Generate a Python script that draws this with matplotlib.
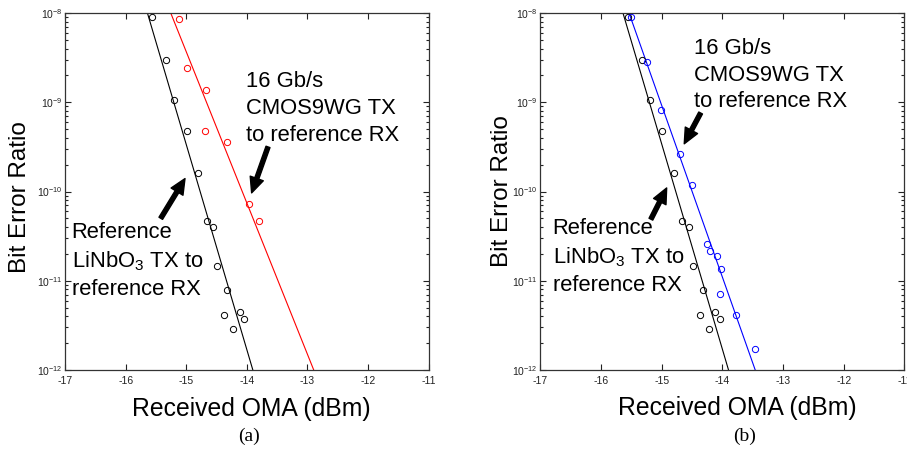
import matplotlib
matplotlib.use('Agg')
import matplotlib.pyplot as plt
from matplotlib.ticker import LogLocator, LogFormatterSciNotation, NullFormatter

plt.rcParams['font.family'] = ['Liberation Sans', 'DejaVu Sans']
plt.rcParams['mathtext.fontset'] = 'custom'
plt.rcParams['mathtext.rm'] = 'Liberation Sans'
plt.rcParams['mathtext.it'] = 'Liberation Sans:italic'

# reference LiNbO3 TX measurements (same in both panels)
ref_oma = [-15.56, -15.33, -15.20, -14.99, -14.80, -14.66, -14.55, -14.49,
           -14.32, -14.37, -14.12, -14.04, -14.23]
ref_ber = [9.0e-9, 3.0e-9, 1.07e-9, 4.8e-10, 1.63e-10, 4.7e-11, 4.0e-11,
           1.46e-11, 7.9e-12, 4.1e-12, 4.45e-12, 3.7e-12, 2.9e-12]
ref_fit_oma = [-15.64, -13.90]
ref_fit_ber = [1e-8, 1e-12]

# panel (a) CMOS9WG TX
a_oma = [-15.12, -14.98, -14.67, -14.69, -14.33, -13.97, -13.80]
a_ber = [8.5e-9, 2.45e-9, 1.36e-9, 4.8e-10, 3.56e-10, 7.2e-11, 4.66e-11]
a_fit_oma = [-15.255, -12.895]
a_fit_ber = [1e-8, 1e-12]

# panel (b) CMOS9WG TX
b_oma = [-15.50, -15.24, -15.02, -14.70, -14.50, -14.26, -14.20, -14.09,
         -14.02, -14.04, -13.78, -13.47]
b_ber = [9.0e-9, 2.8e-9, 8.1e-10, 2.62e-10, 1.19e-10, 2.61e-11, 2.18e-11,
         1.91e-11, 1.35e-11, 7.1e-12, 4.1e-12, 1.72e-12]
b_fit_oma = [-15.54, -13.46]
b_fit_ber = [1e-8, 1e-12]

x_ticks = [-17, -16, -15, -14, -13, -12, -11]

fig = plt.figure(figsize=(9.07, 4.53), dpi=100)


def setup(ax):
    ax.set_yscale('log')
    ax.set_xlim(-17, -11)
    ax.set_ylim(1e-12, 1e-8)
    ax.set_xticks(x_ticks)
    ax.set_xticklabels([str(t) for t in x_ticks])
    ax.yaxis.set_major_locator(LogLocator(base=10, numticks=10))
    ax.yaxis.set_major_formatter(LogFormatterSciNotation())
    ax.yaxis.set_minor_locator(LogLocator(base=10, subs=range(2, 10), numticks=20))
    ax.yaxis.set_minor_formatter(NullFormatter())
    ax.tick_params(which='both', direction='in', top=True, right=True,
                   labelsize=7.5, colors='#222222', width=0.8)
    ax.tick_params(which='major', length=4)
    ax.tick_params(which='minor', length=2)
    ax.tick_params(axis='y', pad=2)
    ax.tick_params(axis='x', pad=4)
    for s in ax.spines.values():
        s.set_linewidth(0.9)
        s.set_color('#333333')


arrow = dict(facecolor='black', edgecolor='black', width=3, headwidth=10,
             headlength=11, shrink=0)
ls = 1.36

# ---- panel (a)
ax1 = fig.add_axes([0.0717, 0.1832, 0.4008, 0.788])
setup(ax1)
ax1.plot(ref_fit_oma, ref_fit_ber, color='black', lw=0.8)
ax1.plot(a_fit_oma, a_fit_ber, color='red', lw=0.8)
ax1.plot(ref_oma, ref_ber, 'o', mfc='none', mec='black', ms=4.5, mew=0.7)
ax1.plot(a_oma, a_ber, 'o', mfc='none', mec='red', ms=4.5, mew=0.7)
ax1.text(0.498, 0.732, '16 Gb/s\nCMOS9WG TX\nto reference RX',
         transform=ax1.transAxes, fontsize=15.8, va='center', ha='left',
         linespacing=ls)
ax1.text(0.018, 0.306, 'Reference\nLiNbO$_3$ TX to\nreference RX',
         transform=ax1.transAxes, fontsize=15.8, va='center', ha='left',
         linespacing=ls)
ax1.annotate('', xy=(-13.92, 10**-10.015), xytext=(-13.65, 10**-9.50),
             arrowprops=arrow)
ax1.annotate('', xy=(-15.02, 10**-9.855), xytext=(-15.42, 10**-10.30),
             arrowprops=arrow)

# ---- panel (b)
ax2 = fig.add_axes([0.5959, 0.1832, 0.4013, 0.788])
setup(ax2)
ax2.plot(ref_fit_oma, ref_fit_ber, color='black', lw=0.8)
ax2.plot(b_fit_oma, b_fit_ber, color='blue', lw=0.8)
ax2.plot(ref_oma, ref_ber, 'o', mfc='none', mec='black', ms=4.5, mew=0.7)
ax2.plot(b_oma, b_ber, 'o', mfc='none', mec='blue', ms=4.5, mew=0.7)
ax2.text(0.4217, 0.826, '16 Gb/s\nCMOS9WG TX\nto reference RX',
         transform=ax2.transAxes, fontsize=15.8, va='center', ha='left',
         linespacing=ls)
ax2.text(0.0335, 0.316, 'Reference\nLiNbO$_3$ TX to\nreference RX',
         transform=ax2.transAxes, fontsize=15.8, va='center', ha='left',
         linespacing=ls)
ax2.annotate('', xy=(-14.63, 10**-9.465), xytext=(-14.36, 10**-9.12),
             arrowprops=arrow)
ax2.annotate('', xy=(-14.92, 10**-9.96), xytext=(-15.18, 10**-10.31),
             arrowprops=arrow)

# axis labels and captions
fig.text(0.022, 0.565, 'Bit Error Ratio', rotation=90, fontsize=17.5,
         ha='center', va='center')
fig.text(0.553, 0.579, 'Bit Error Ratio', rotation=90, fontsize=17.5,
         ha='center', va='center')
fig.text(0.2767, 0.097, 'Received OMA (dBm)', fontsize=17.8,
         ha='center', va='center')
fig.text(0.8126, 0.099, 'Received OMA (dBm)', fontsize=17.8,
         ha='center', va='center')
fig.text(0.2745, 0.037, '(a)', fontsize=14, family='Liberation Serif',
         ha='center', va='center')
fig.text(0.8214, 0.037, '(b)', fontsize=14, family='Liberation Serif',
         ha='center', va='center')

fig.savefig('out.png', dpi=100)
